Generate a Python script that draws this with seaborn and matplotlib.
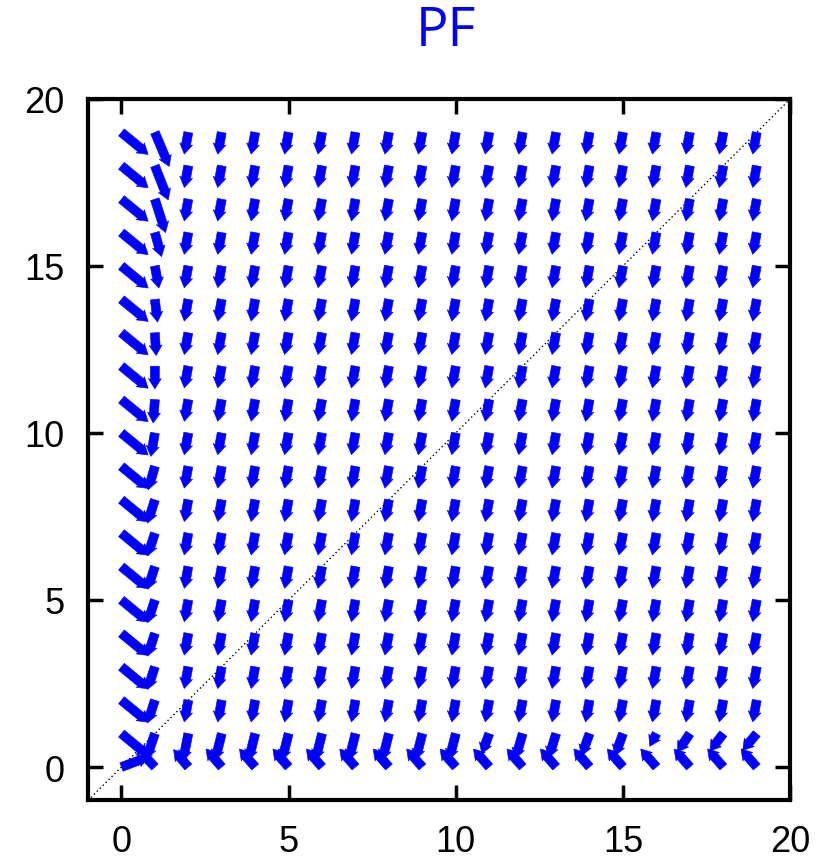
import numpy as np
import matplotlib
matplotlib.use("Agg")
import matplotlib.pyplot as plt
import seaborn as sns

# Grid of arrow origins
xs = list(range(20))
ys = list(range(20))

# Bulk of the field (x >= 2, y >= 2): nearly straight down, slightly left
interior_u = -0.12
interior_v = -0.65

# Column x = 0, indexed by y = 0..19
col0_u = [0.80] + [0.80] * 19
col0_v = [0.30] + [-0.66] * 19

# Column x = 1, indexed by y = 0..19
col1_u = [-0.42, -0.25, -0.22, -0.22, -0.22, -0.22, -0.22, -0.22, -0.22, -0.20,
          -0.12, -0.05, 0.00, 0.04, 0.08, 0.12, 0.20, 0.32, 0.40, 0.43]
col1_v = [0.45, -0.75, -0.68, -0.68, -0.68, -0.68, -0.68, -0.68, -0.70, -0.70,
          -0.70, -0.70, -0.68, -0.68, -0.68, -0.66, -0.72, -1.00, -1.02, -1.02]

# Row y = 0, indexed by x = 2..19
row0_u = [-0.44, -0.47, -0.47, -0.47, -0.47, -0.47, -0.47, -0.47, -0.47,
          -0.47, -0.47, -0.47, -0.47, -0.47, -0.47, -0.47, -0.47, -0.47]
row0_v = [0.52, 0.54, 0.54, 0.54, 0.54, 0.54, 0.54, 0.54, 0.54,
          0.54, 0.54, 0.54, 0.54, 0.54, 0.54, 0.54, 0.54, 0.54]

# Row y = 1, indexed by x = 2..19
row1_u = [-0.16, -0.20, -0.20, -0.20, -0.20, -0.20, -0.20, -0.20, -0.20,
          -0.22, -0.22, -0.22, -0.24, -0.24, -0.20, -0.37, -0.40, -0.42]
row1_v = [-0.82, -0.80, -0.80, -0.80, -0.80, -0.80, -0.80, -0.78, -0.78,
          -0.60, -0.75, -0.72, -0.66, -0.66, -0.38, -0.55, -0.52, -0.50]

x_ticks = [0, 5, 10, 15, 20]
y_ticks = [0, 5, 10, 15, 20]
title = "PF"

# Assemble the vector table
X, Y = np.meshgrid(xs, ys)
U = np.full(X.shape, interior_u)
V = np.full(X.shape, interior_v)
U[:, 0], V[:, 0] = col0_u, col0_v
U[:, 1], V[:, 1] = col1_u, col1_v
U[0, 2:], V[0, 2:] = row0_u, row0_v
U[1, 2:], V[1, 2:] = row1_u, row1_v

sns.set_theme(style="white")
plt.rcParams["font.family"] = ["Liberation Sans", "DejaVu Sans"]

fig = plt.figure(figsize=(8.3, 8.62), dpi=100)
ax = fig.add_axes([0.106, 0.0703, 0.846, 0.8137])

# Reference diagonal y = x
sns.lineplot(x=[-1, 20], y=[-1, 20], ax=ax, color="black",
             linestyle=(0, (1, 2)), linewidth=1.0)

ax.quiver(X, Y, U, V, angles="xy", scale_units="xy", scale=1,
          color="#0000ff", width=0.0128, headwidth=1.45,
          headlength=1.15, headaxislength=1.05, minshaft=0.5,
          linewidth=0.4, edgecolor="#0000ff", zorder=3)

ax.set_xlim(-1, 20)
ax.set_ylim(-1, 20)
ax.set_xticks(x_ticks)
ax.set_yticks(y_ticks)
ax.tick_params(direction="in", length=11, width=2.5, bottom=True, left=True,
               top=True, right=True, labelsize=26, pad=17, colors="black")
for s in ax.spines.values():
    s.set_linewidth(3)
    s.set_color("black")

fig.text(446 / 830, 1 - 32 / 862, title, color="#0000ff", fontsize=39,
         ha="center", va="center", family=["Open Sans", "DejaVu Sans"])

fig.savefig("out.png", dpi=100)
